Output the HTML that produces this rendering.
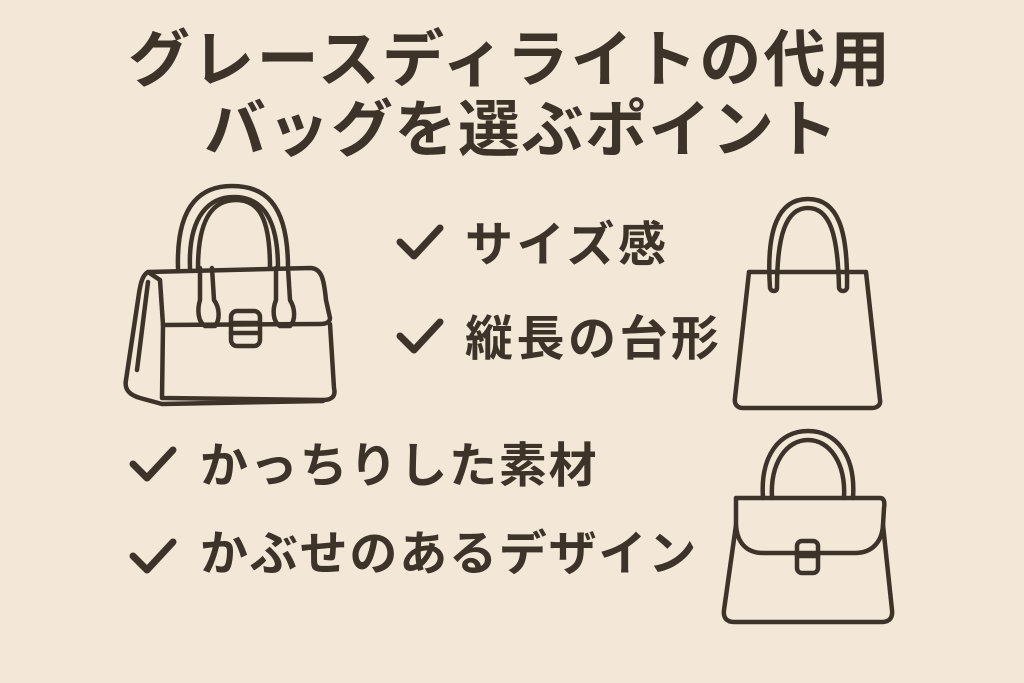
<!DOCTYPE html>
<html><head><meta charset="utf-8"><style>
html,body{margin:0;padding:0}
body{width:1024px;height:683px;background:#f3e8d8;position:relative;overflow:hidden;font-family:"Liberation Sans","Noto Sans CJK JP",sans-serif;color:#3e3329;font-weight:bold}
.t{position:absolute;white-space:nowrap;font-size:62px;line-height:1}
.i{position:absolute;white-space:nowrap;font-size:48px;line-height:1;letter-spacing:1px}
svg{position:absolute;left:0;top:0}
</style></head><body>
<div class="t" style="left:128px;top:30px;letter-spacing:2.3px">グレースディライトの代用</div>
<div class="t" style="left:204px;top:100px;letter-spacing:1.5px">バッグを選ぶポイント</div>
<div class="i" style="left:465px;top:222px;letter-spacing:3.5px">サイズ感</div>
<div class="i" style="left:465px;top:316px;letter-spacing:3.5px">縦長の台形</div>
<div class="i" style="left:200px;top:443px;letter-spacing:1.8px">かっちりした素材</div>
<div class="i" style="left:200px;top:531px;letter-spacing:1.8px">かぶせのあるデザイン</div>
<svg width="1024" height="683" fill="none" stroke="#3e3329" stroke-width="4.5" stroke-linecap="round" stroke-linejoin="round">
<g stroke-width="7">
<path d="M400 242 L414 256 L440 228"/>
<path d="M400 336 L414 350 L440 322"/>
<path d="M133 464 L147 478 L173 450"/>
<path d="M133 556 L147 570 L173 542"/>
</g>
<path d="M178 268 C176 200 205 186 232 186 C262 186 288 200 288 268"/>
<path d="M190 268 C188 215 210 197 234 197 C258 197 278 212 278 268"/>
<path d="M198 268 C198 215 215 200 236 200 C260 200 270 220 270 268"/>
<path d="M200 268 L200 300 C197 310 198 322 205 326 L215 326 C220 320 220 308 214 300 L212 268"/>
<path d="M276 268 L276 300 C272 310 273 322 280 326 L290 326 C296 320 295 308 290 300 L288 268"/>
<path d="M148 272 L310 268 C322 268 324 280 326 300 L330 318 C330 322 326 324 320 324 L163 325 L160 280 Z"/>
<path d="M163 325 L162 398 L323 400 C332 400 336 396 334 388 L330 324"/>
<path d="M148 272 C142 275 140 285 138 300 L126 380 C124 390 130 395 140 398 L162 404 L323 401"/>
<path d="M137 370 L148 282"/>
<rect x="231" y="311" width="29" height="35" rx="6"/>
<path d="M231 323 L260 323 M231 333 L260 333"/>
<path d="M770 288 C766 230 778 199 808 199 C838 199 848 230 847 288 C846 292 840 292 839 288 C838 235 830 208 808 208 C786 208 777 235 777 288 C777 292 771 292 770 288 Z"/>
<path d="M749 272 L866 272 L880 400 C881 405 877 408 872 408 L743 408 C737 408 734 404 735 398 Z"/>
<path d="M763 498 C760 455 780 431 808 431 C836 431 856 455 853 498"/>
<path d="M772 498 C770 462 787 440 808 440 C829 440 846 462 844 498"/>
<path d="M736 498 L880 498 C884 498 885 502 884 508 L883 525 C882 542 872 553 855 553 L763 553 C746 553 737 542 736 525 Z"/>
<path d="M736 525 L724 610 C723 618 727 622 734 622 L882 622 C889 622 893 618 892 610 L883 525"/>
<rect x="797" y="541" width="21" height="32" rx="5"/>
<path d="M797 556 L818 556"/>
</svg>
</body></html>
